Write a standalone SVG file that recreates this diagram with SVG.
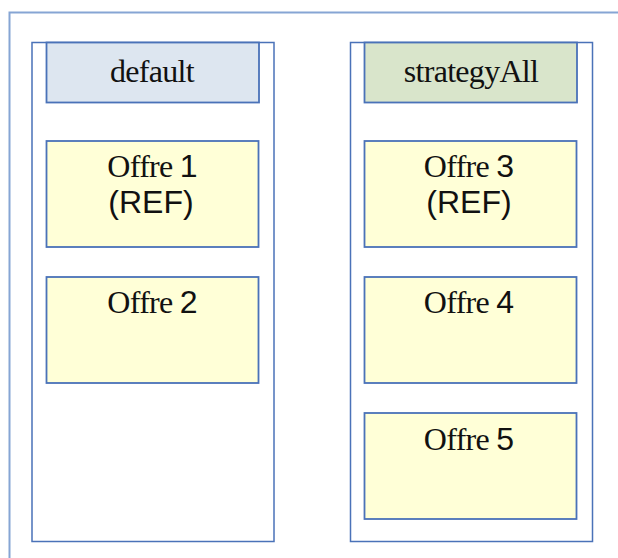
<svg xmlns="http://www.w3.org/2000/svg" width="618" height="558" viewBox="0 0 618 558">
<style>
.frame{fill:none;stroke:#86a5d4;stroke-width:2}
.col{fill:#ffffff;stroke:#4a72b8;stroke-width:1.5}
.box{stroke:#4a72b8;stroke-width:1.8}
.hdr1{fill:#dde6f0}
.hdr2{fill:#d9e5cb}
.offre{fill:#ffffd7}
.t{font-size:32px;fill:#111111;text-anchor:middle}
.serif{font-family:"Liberation Serif","DejaVu Serif",serif;letter-spacing:-0.7px}
.sans{font-family:"Liberation Sans","DejaVu Sans",sans-serif}
</style>
<rect width="618" height="558" fill="#ffffff"/>
<path class="frame" d="M9.5 560 V12.5 H620"/>
<g id="col-default">
  <rect class="col" x="32" y="42.5" width="242" height="499"/>
</g>
<g id="col-strategyAll">
  <rect class="col" x="350.5" y="42.5" width="242" height="499"/>
</g>
<g id="default">
  <rect class="box hdr1" x="46.5" y="42.5" width="212.5" height="60"/>
  <text class="t serif" x="152" y="81.5">default</text>
</g>
<g id="strategyAll">
  <rect class="box hdr2" x="364.5" y="42.5" width="212.5" height="60"/>
  <text class="t serif" x="471" y="81.5">strategyAll</text>
</g>
<g id="offre1">
  <rect class="box offre" x="46.5" y="141" width="212" height="106"/>
  <text class="t" x="152.5" y="177"><tspan class="serif">Offre </tspan><tspan class="sans">1</tspan></text>
  <text class="t sans" x="151" y="213">(REF)</text>
</g>
<g id="offre2">
  <rect class="box offre" x="46.5" y="277" width="212" height="106"/>
  <text class="t" x="152.5" y="313"><tspan class="serif">Offre </tspan><tspan class="sans">2</tspan></text>
</g>
<g id="offre3">
  <rect class="box offre" x="364.5" y="141" width="212" height="106"/>
  <text class="t" x="469" y="177"><tspan class="serif">Offre </tspan><tspan class="sans">3</tspan></text>
  <text class="t sans" x="469" y="213">(REF)</text>
</g>
<g id="offre4">
  <rect class="box offre" x="364.5" y="277" width="212" height="106"/>
  <text class="t" x="469" y="313"><tspan class="serif">Offre </tspan><tspan class="sans">4</tspan></text>
</g>
<g id="offre5">
  <rect class="box offre" x="364.5" y="413" width="212" height="106"/>
  <text class="t" x="469" y="450"><tspan class="serif">Offre </tspan><tspan class="sans">5</tspan></text>
</g>
<g id="connectors"></g>
</svg>
